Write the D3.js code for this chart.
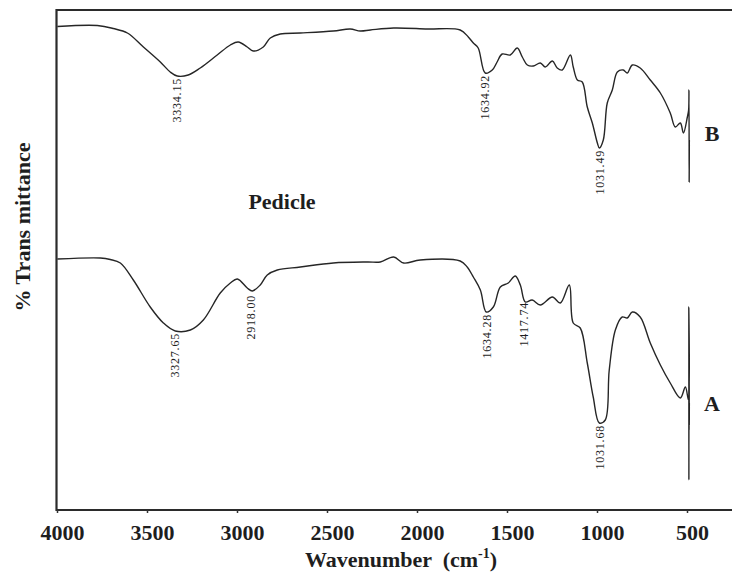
<!DOCTYPE html>
<html>
<head>
<meta charset="utf-8">
<script src="https://cdn.jsdelivr.net/npm/d3@7"></script>
<style>
  body { margin: 0; background: #fff; }
  svg text { font-family: "Liberation Serif", "Times New Roman", serif; fill: #1e1e1e; }
</style>
</head>
<body>
<div id="chart"></div>
<script>
// spectrum B (top trace) - wavenumber / transmittance
let bWave = [3998,3776,3687,3609,3520,3426,3371,3332,3271,3204,3110,3037,2993,2943,2910,2854,2815,2760,2648,2465,2371,2315,2259,2130,1942,1760,1715,1687,1660,1621,1582,1555,1527,1482,1443,1415,1387,1354,1315,1287,1248,1221,1193,1148,1132,1109,1082,1054,1026,998,987,965,943,915,887,854,832,804,760,704,648,593,565,537,520,498,491,489,488,487];
let bTrans = [96.7,96.9,96.3,95.4,92.6,89.6,87.6,86.8,87.0,88.4,91.0,93.0,93.6,92.6,91.8,92.6,94.4,95.2,95.4,95.8,96.2,95.8,96.0,96.4,96.2,96.0,94.6,93.4,92.4,87.4,88.0,89.6,91.2,91.0,92.4,90.6,89.0,88.8,89.4,88.6,89.8,88.4,88.0,91.0,88.6,86.0,85.6,80.6,77.4,73.4,72.4,74.0,81.4,84.0,87.6,88.0,87.4,89.0,88.4,86.0,83.4,79.4,76.6,77.4,75.4,78.6,80,84.0,65.6,74];

// spectrum A (bottom trace)
let aWave = [3998,3759,3704,3648,3576,3482,3409,3343,3259,3187,3093,3037,2998,2943,2915,2871,2832,2776,2648,2465,2274,2204,2130,2074,1982,1760,1721,1687,1648,1615,1576,1537,1493,1454,1426,1398,1360,1315,1248,1204,1154,1132,1093,1054,1021,987,954,932,898,860,832,804,760,704,648,593,537,509,492,490,489.5,489,488.5,488,487.5,487];
let aTrans = [50.2,50.4,50.1,49.4,46.0,40.6,37.4,35.8,36.0,38.0,43.4,45.4,46.2,44.4,43.8,45.0,47.0,48.0,48.6,49.4,49.6,49.6,50.6,49.4,50.0,49.8,48.6,46.6,44.0,39.6,40.6,44.6,45.4,46.8,45.0,41.6,42.0,41.0,42.6,41.4,45.0,37.4,36.4,29.4,22.6,17.4,18.0,28.0,36.0,38.6,38.4,39.6,38.6,33.4,29.0,25.4,22.4,24.6,22,40.6,6,31,16,30,17,21.4];

// peak labels
let bPeakText = ["3334.15", "1634.92", "1031.49"];
let bPeakWave = [3332, 1621, 987];
let bPeakTrans = [86.8, 87.4, 72.4];
let aPeakText = ["3327.65", "2918.00", "1634.28", "1417.74", "1031.68"];
let aPeakWave = [3343, 2926, 1615, 1409, 987];
let aPeakTrans = [35.8, 43.4, 39.6, 42.0, 17.4];

let xTicks = [4000, 3500, 3000, 2500, 2000, 1500, 1000, 500];

// trace names + the "Pedicle" note
let noteText = ["B", "A", "Pedicle"];
let noteWave = [361, 361, 2750];
let noteTrans = [73.8, 19.8, 60.2];

let width = 732, height = 575;

let viz = d3.select("#chart")
              .append("svg")
                .attr("width", width)
                .attr("height", height)
;

let x = d3.scaleLinear().domain([4000, 200]).range([57, 741]);
let y = d3.scaleLinear().domain([0, 100]).range([510, 10]);

// frame (right side runs off the page)
viz.append("path")
    .attr("d", "M741,10 H56.5 V510 H741")
    .attr("fill", "none")
    .attr("stroke", "#2b2b2b")
    .attr("stroke-width", 2.2)
;

let xAxis = d3.axisBottom(x)
                .tickValues(xTicks)
                .tickSize(3)
                .tickPadding(11)
                .tickFormat(d3.format("d"))
;

let gx = viz.append("g")
              .attr("transform", "translate(0,510)")
              .call(xAxis)
;
gx.select(".domain").remove();
gx.selectAll(".tick line").attr("stroke", "#333").attr("stroke-width", 1.5);
gx.selectAll(".tick text")
    .attr("dx", 5)
    .style("font-family", "Liberation Serif, serif")
    .style("font-weight", "bold")
    .style("font-size", "22px")
    .attr("fill", "#1e1e1e")
;

function makePoints(waves, trans){
  return waves.map((w, i) => [w, trans[i]]);
}

let line = d3.line()
               .x(d => x(d[0]))
               .y(d => y(d[1]))
               .curve(d3.curveCatmullRom.alpha(0.5))
;

let spectra = [makePoints(bWave, bTrans), makePoints(aWave, aTrans)];

viz.selectAll("path.spectrum").data(spectra).enter().append("path")
    .attr("class", "spectrum")
    .attr("d", line)
    .attr("fill", "none")
    .attr("stroke", "#262626")
    .attr("stroke-width", 1.4)
    .attr("stroke-linejoin", "round")
;

// little rotated peak labels hanging under each band
function peakLabels(texts, waves, trans){
  viz.selectAll(null).data(texts).enter().append("text")
      .attr("transform", (d, i) => "translate(" + x(waves[i]) + "," + (y(trans[i]) + 2) + ") rotate(-90)")
      .attr("text-anchor", "end")
      .attr("dy", "0.35em")
      .attr("font-size", 12)
      .attr("letter-spacing", 0.8)
      .text(d => d)
  ;
}
peakLabels(bPeakText, bPeakWave, bPeakTrans);
peakLabels(aPeakText, aPeakWave, aPeakTrans);

viz.selectAll(null).data(noteText).enter().append("text")
    .attr("x", (d, i) => x(noteWave[i]))
    .attr("y", (d, i) => y(noteTrans[i]))
    .attr("text-anchor", "middle")
    .attr("font-weight", "bold")
    .attr("font-size", 22)
    .text(d => d)
;

// axis titles
viz.append("text")
    .attr("transform", "translate(22,227) rotate(-90)")
    .attr("text-anchor", "middle")
    .attr("dy", "0.35em")
    .attr("font-weight", "bold")
    .attr("font-size", 22)
    .text("% Trans mittance")
;

let xTitle = viz.append("text")
                  .attr("x", 401)
                  .attr("y", 567)
                  .attr("text-anchor", "middle")
                  .attr("font-weight", "bold")
                  .attr("font-size", 22)
                  .attr("xml:space", "preserve")
;
xTitle.append("tspan").text("Wavenumber  (cm");
xTitle.append("tspan").attr("font-size", 14).attr("dy", -9).text("-1");
xTitle.append("tspan").attr("dy", 9).text(")");
</script>
</body>
</html>
